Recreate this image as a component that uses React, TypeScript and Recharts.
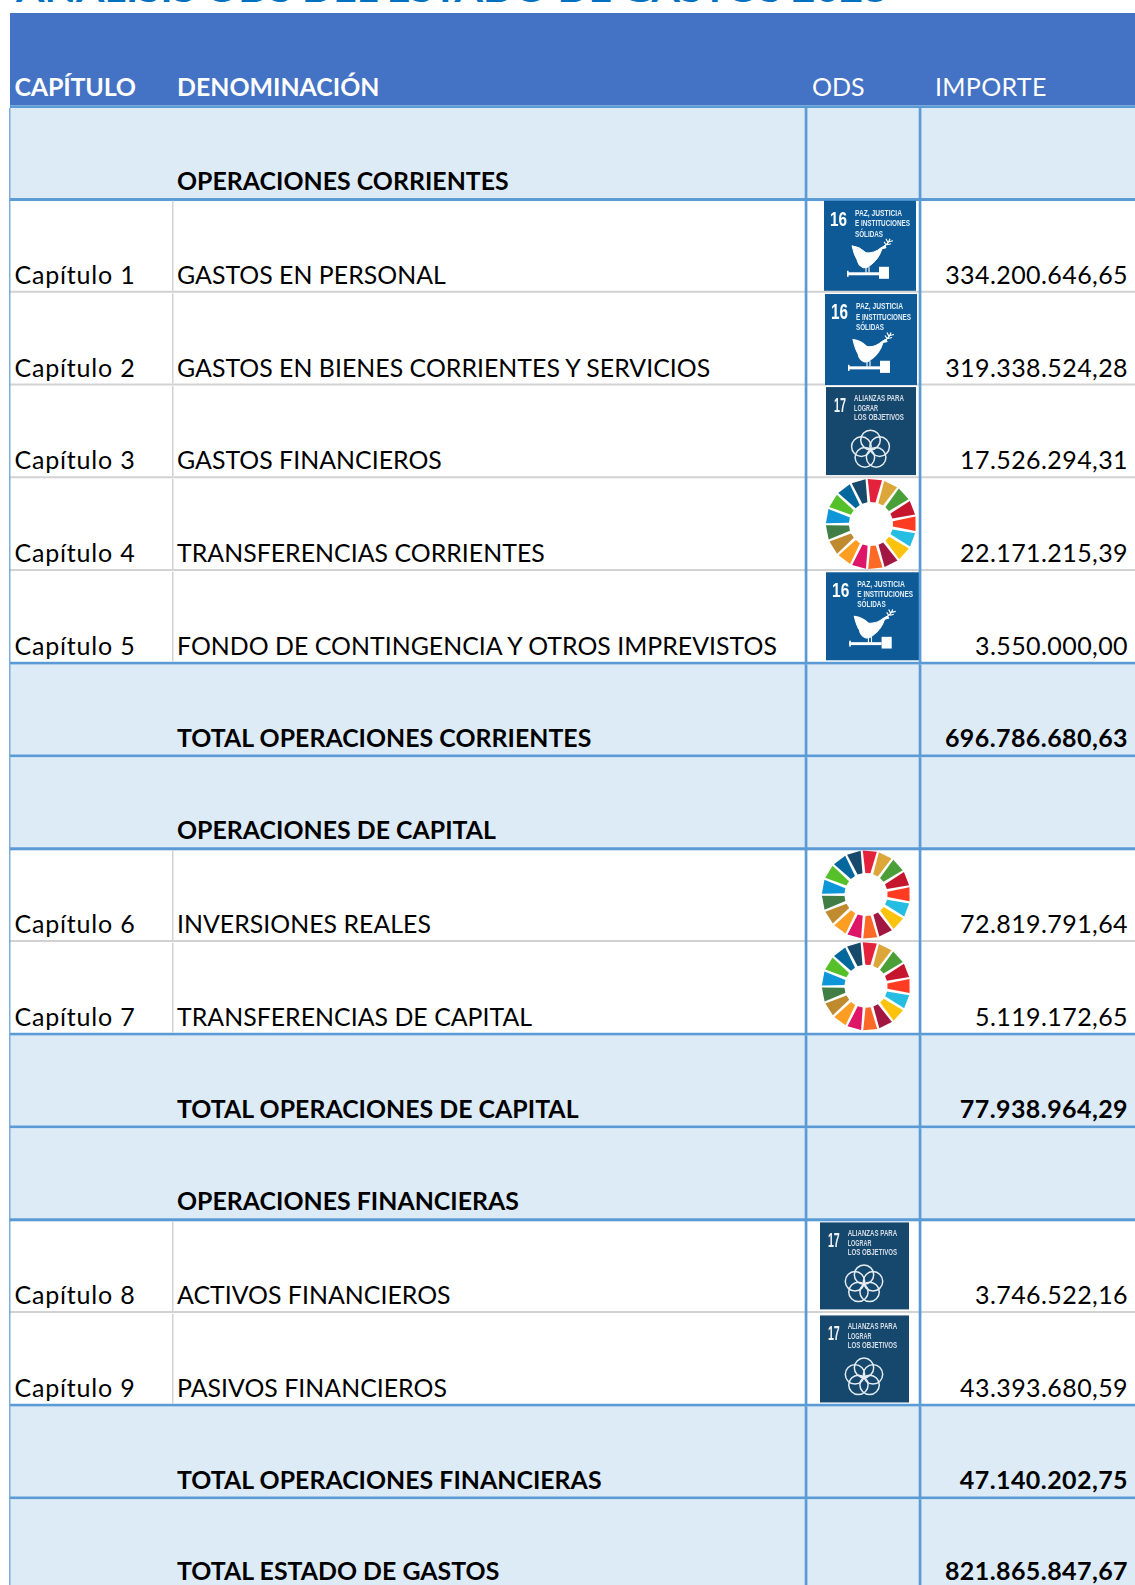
import React from 'react';
import { BarChart, Bar, XAxis, YAxis } from 'recharts';

// ---------- data ----------
const TITLE = 'ANÁLISIS ODS DEL ESTADO DE GASTOS 2023';
const columnHeads = ['CAPÍTULO', 'DENOMINACIÓN', 'ODS', 'IMPORTE'];
const rowKinds = ['header', 'band', 'data', 'data', 'data', 'data', 'data', 'band', 'band', 'data', 'data', 'band', 'band', 'data', 'data', 'band', 'band'];
const chapters = ['', '', 'Capítulo 1', 'Capítulo 2', 'Capítulo 3', 'Capítulo 4', 'Capítulo 5', '', '', 'Capítulo 6', 'Capítulo 7', '', '', 'Capítulo 8', 'Capítulo 9', '', ''];
const names = ['', 'OPERACIONES CORRIENTES', 'GASTOS EN PERSONAL', 'GASTOS EN BIENES CORRIENTES Y SERVICIOS', 'GASTOS FINANCIEROS', 'TRANSFERENCIAS CORRIENTES', 'FONDO DE CONTINGENCIA Y OTROS IMPREVISTOS', 'TOTAL OPERACIONES CORRIENTES', 'OPERACIONES DE CAPITAL', 'INVERSIONES REALES', 'TRANSFERENCIAS DE CAPITAL', 'TOTAL OPERACIONES DE CAPITAL', 'OPERACIONES FINANCIERAS', 'ACTIVOS FINANCIEROS', 'PASIVOS FINANCIEROS', 'TOTAL OPERACIONES FINANCIERAS', 'TOTAL ESTADO DE GASTOS'];
const odsGoals = ['', '', '16', '16', '17', 'all', '16', '', '', 'all', 'all', '', '', '17', '17', '', ''];
const amounts = ['', '', '334.200.646,65', '319.338.524,28', '17.526.294,31', '22.171.215,39', '3.550.000,00', '696.786.680,63', '', '72.819.791,64', '5.119.172,65', '77.938.964,29', '', '3.746.522,16', '43.393.680,59', '47.140.202,75', '821.865.847,67'];

// ---------- layout & style (separate from the data) ----------
const W = 1135;
const ROW_H = 92.72;
const COL_W = { gutter: 10, chapter: 162, name: 634, ods: 114, amount: 215 };
const FONT = 'Lato, Carlito, sans-serif';
const FS = 25;
const NAME_FS = 24.85;
const BLUE = '#5B9BD5';
const GREY = '#D2D2D2';
const HEAD = '#4472C4';
const BAND = '#DDEBF7';
const wheelColors = ['#E5243B', '#DDA63A', '#4C9F38', '#C5192D', '#FF3A21', '#26BDE2', '#FCC30B', '#A21942', '#FD6925', '#DD1367', '#FD9D24', '#BF8B2E', '#3F7E44', '#0A97D9', '#56C02B', '#00689D', '#19486A'];
// icon box offset from ODS cell left/top, and its size
const iconBoxes: Record<number, [number, number, number, number]> = {
  2: [18, 0, 92, 90],
  3: [19, 0.5, 92, 91],
  4: [20, 0.8, 90, 88],
  5: [19, -1, 92, 92],
  6: [20, 0.5, 93, 88],
  9: [15, -0.5, 90, 90],
  10: [15, -1.5, 90, 90],
  13: [14, 1.4, 89, 87],
  14: [14, 1.7, 89, 87],
};

const rows = rowKinds.map((kind, i) => ({
  row: i,
  kind,
  chapter: chapters[i],
  name: names[i],
  goal: odsGoals[i],
  amount: amounts[i],
  nextKind: rowKinds[i + 1] ?? 'band',
  gutter: COL_W.gutter,
  chapterW: COL_W.chapter,
  nameW: COL_W.name,
  odsW: COL_W.ods,
  amountW: COL_W.amount,
}));

// ---------- icons ----------
function Icon16({ x, y, w, h }: any) {
  return (
    <g transform={`translate(${x},${y}) scale(${w / 92},${h / 90})`} filter="url(#soft)">
      <rect width={92} height={90} fill="#0B5A97" />
      <text x={6} y={25} fontFamily="'Liberation Sans Narrow', 'Liberation Sans', sans-serif" fontWeight={700} fontSize={21} fill="#fff" textLength={17} lengthAdjust="spacingAndGlyphs">16</text>
      <g fontFamily="'Liberation Sans Narrow', 'Liberation Sans', sans-serif" fontWeight={700} fontSize={9} fill="#E4EEF6">
        <text x={31} y={15} textLength={47} lengthAdjust="spacingAndGlyphs">PAZ, JUSTICIA</text>
        <text x={31} y={25.5} textLength={55} lengthAdjust="spacingAndGlyphs">E INSTITUCIONES</text>
        <text x={31} y={36} textLength={28} lengthAdjust="spacingAndGlyphs">SÓLIDAS</text>
      </g>
      <path d="M28 45 Q36 46 42 52 Q50 53 57 47 L61 45 L62 47 L58 48 Q55 58 47 64 Q43 68 39 67 Q34 65 33 59 Q30 54 28 45 Z" fill="#fff" stroke="#fff" strokeWidth={1} />
      <path d="M42 66 V72 M45 66 V72" stroke="#fff" strokeWidth={1.1} />
      <path d="M59 46 Q64 44 66 38 M62 44 L60 41 M64 42 L62 38 M63 44 L67 43 M65 41 L69 40" stroke="#fff" strokeWidth={1.2} fill="none" />
      <rect x={23} y={71.5} width={32} height={3} fill="#fff" />
      <rect x={23} y={70} width={1.6} height={6} fill="#fff" />
      <rect x={55} y={66} width={10} height={12} fill="#fff" />
    </g>
  );
}

function Icon17({ x, y, w, h }: any) {
  const petals = [0, 1, 2, 3, 4].map((k) => {
    const a = (-90 + k * 72) * (Math.PI / 180);
    return [44.5 + Math.cos(a) * 9.6, 62.5 + Math.sin(a) * 9.6];
  });
  return (
    <g transform={`translate(${x},${y}) scale(${w / 90},${h / 88})`} filter="url(#soft2)">
      <rect width={90} height={88} fill="#17466D" />
      <text x={8} y={25} fontFamily="'Liberation Sans Narrow', 'Liberation Sans', sans-serif" fontWeight={700} fontSize={21} fill="#EEF3F7" textLength={12} lengthAdjust="spacingAndGlyphs">17</text>
      <g fontFamily="'Liberation Sans Narrow', 'Liberation Sans', sans-serif" fontWeight={700} fontSize={8.5} fill="#D4DEE7">
        <text x={28} y={14} textLength={50} lengthAdjust="spacingAndGlyphs">ALIANZAS PARA</text>
        <text x={28} y={23.5} textLength={24} lengthAdjust="spacingAndGlyphs">LOGRAR</text>
        <text x={28} y={33} textLength={50} lengthAdjust="spacingAndGlyphs">LOS OBJETIVOS</text>
      </g>
      {petals.map(([cx, cy], k) => (
        <circle key={k} cx={cx} cy={cy} r={9.8} fill="none" stroke="#E4EDF3" strokeWidth={1.5} />
      ))}
    </g>
  );
}

function polar(cx: number, cy: number, r: number, deg: number) {
  const a = (deg - 90) * (Math.PI / 180);
  return `${(cx + r * Math.cos(a)).toFixed(2)} ${(cy + r * Math.sin(a)).toFixed(2)}`;
}

function Wheel({ x, y, w, h }: any) {
  const cx = 50;
  const cy = 50;
  const step = 360 / 17;
  return (
    <g transform={`translate(${x},${y}) scale(${w / 100},${h / 100})`} filter="url(#soft3)">
      {wheelColors.map((c, i) => {
        const mid = 5 + i * step;
        const a0 = mid - step / 2 + 1.4;
        const a1 = mid + step / 2 - 1.4;
        const d = `M${polar(cx, cy, 24, a0 + 2.4)} L${polar(cx, cy, 49, a0)} L${polar(cx, cy, 49, a1)} L${polar(cx, cy, 24, a1 - 2.4)} Z`;
        return <path key={i} d={d} fill={c} />;
      })}
    </g>
  );
}

// ---------- cell shapes ----------
// baseline of a cell's text, which sits slightly differently in each kind of row
const baseline = (y: number, h: number, p: any) => {
  if (p.kind === 'header') return y + h - 11.8;
  if (p.row === rowKinds.length - 1) return y + h - 12;
  if (p.kind === 'band') return y + h - 10.8;
  return y + h - 9.8;
};

function Rule({ x, w, y, h, p }: any) {
  if (p.kind === 'data' && p.nextKind === 'data') return <rect x={x} y={y + h - 3} width={w} height={2} fill={GREY} />;
  return <rect x={x} y={y + h - 3} width={w} height={3} fill={BLUE} />;
}

function Background({ x, y, width, height, p }: any) {
  if (p.kind === 'header') return <rect x={x} y={y - 2.3} width={width} height={height + 2.3 - 3} fill={HEAD} />;
  if (p.kind === 'band') return <rect x={x} y={y} width={width} height={height} fill={BAND} />;
  return null;
}

function ChapterCell(props: any) {
  const { x, y, width, height, payload: p } = props;
  const isHead = p.kind === 'header';
  return (
    <g>
      <Background x={x} y={y} width={width} height={height} p={p} />
      <Rule x={x} w={width} y={y} h={height} p={p} />
      {!isHead && <rect x={x - 0.8} y={y} width={1.2} height={height} fill={BLUE} />}
      {isHead && (
        <text x={16} y={1.5} fontFamily={FONT} fontWeight={700} fontSize={33} fill="#0070C0" textLength={871} lengthAdjust="spacingAndGlyphs">{TITLE}</text>
      )}
      <text x={x + 4.5} y={baseline(y, height, p)} fontFamily={FONT} fontSize={FS} fontWeight={isHead ? 700 : 400} letterSpacing={isHead ? -0.2 : 0.8} fill={isHead ? '#fff' : '#000'}>
        {isHead ? columnHeads[0] : p.chapter}
      </text>
    </g>
  );
}

function NameCell(props: any) {
  const { x, y, width, height, payload: p } = props;
  const isHead = p.kind === 'header';
  const strong = p.kind !== 'data';
  return (
    <g>
      <Background x={x} y={y} width={width} height={height} p={p} />
      <Rule x={x} w={width} y={y} h={height} p={p} />
      {p.kind === 'data' && <rect x={x} y={y} width={1.5} height={height - 3} fill={GREY} />}
      <text x={x + 5} y={baseline(y, height, p)} fontFamily={FONT} fontSize={NAME_FS} fontWeight={strong ? 700 : 400} letterSpacing={0.03} fill={isHead ? '#fff' : '#000'}>
        {isHead ? columnHeads[1] : p.name}
      </text>
    </g>
  );
}

function OdsCell(props: any) {
  const { x, y, width, height, payload: p } = props;
  const isHead = p.kind === 'header';
  const box = iconBoxes[p.row];
  const ib = box && { x: x + box[0], y: y + box[1], w: box[2], h: box[3] };
  return (
    <g>
      <Background x={x} y={y} width={width} height={height} p={p} />
      <Rule x={x} w={width} y={y} h={height} p={p} />
      {!isHead && <rect x={x - 1.3} y={y} width={2.7} height={height} fill={BLUE} />}
      {isHead && (
        <text x={x + 6} y={baseline(y, height, p)} fontFamily={FONT} fontSize={FS} fill="#fff">{columnHeads[2]}</text>
      )}
      {ib && p.goal === '16' && <Icon16 {...ib} />}
      {ib && p.goal === '17' && <Icon17 {...ib} />}
      {ib && p.goal === 'all' && <Wheel {...ib} />}
    </g>
  );
}

function AmountCell(props: any) {
  const { x, y, width, height, payload: p } = props;
  const isHead = p.kind === 'header';
  return (
    <g>
      <Background x={x} y={y} width={width} height={height} p={p} />
      <Rule x={x} w={width} y={y} h={height} p={p} />
      {!isHead && <rect x={x - 1.3} y={y} width={2.7} height={height} fill={BLUE} />}
      {isHead ? (
        <text x={x + 15} y={baseline(y, height, p)} fontFamily={FONT} fontSize={FS} letterSpacing={0.3} fill="#fff">{columnHeads[3]}</text>
      ) : (
        <text x={x + width - 7} y={baseline(y, height, p)} textAnchor="end" fontFamily={FONT} fontSize={FS} fontWeight={p.kind === 'band' ? 700 : 400} letterSpacing={0.42} fill="#000">{p.amount}</text>
      )}
    </g>
  );
}

const blank = () => <g />;

export default function App() {
  return (
    <div style={{ position: 'absolute', left: 0, top: 0, width: W, height: 1585, overflow: 'hidden', background: '#fff' }}>
      <BarChart
        layout="vertical"
        width={W}
        height={Math.ceil(15.28 + ROW_H * 17)}
        data={rows}
        margin={{ top: 15.28, right: 0, bottom: 0, left: 0 }}
        barCategoryGap={0}
        style={{ overflow: 'visible' }}
      >
        <defs>
          <filter id="soft" x="-5%" y="-5%" width="110%" height="110%"><feGaussianBlur stdDeviation="0.35" /></filter>
          <filter id="soft2" x="-5%" y="-5%" width="110%" height="110%"><feGaussianBlur stdDeviation="0.6" /></filter>
          <filter id="soft3" x="-5%" y="-5%" width="110%" height="110%"><feGaussianBlur stdDeviation="0.7" /></filter>
        </defs>
        <XAxis type="number" domain={[0, W]} hide />
        <YAxis type="category" dataKey="row" hide />
        <Bar dataKey="gutter" stackId="t" shape={blank} isAnimationActive={false} />
        <Bar dataKey="chapterW" stackId="t" shape={ChapterCell} isAnimationActive={false} />
        <Bar dataKey="nameW" stackId="t" shape={NameCell} isAnimationActive={false} />
        <Bar dataKey="odsW" stackId="t" shape={OdsCell} isAnimationActive={false} />
        <Bar dataKey="amountW" stackId="t" shape={AmountCell} isAnimationActive={false} />
      </BarChart>
    </div>
  );
}
